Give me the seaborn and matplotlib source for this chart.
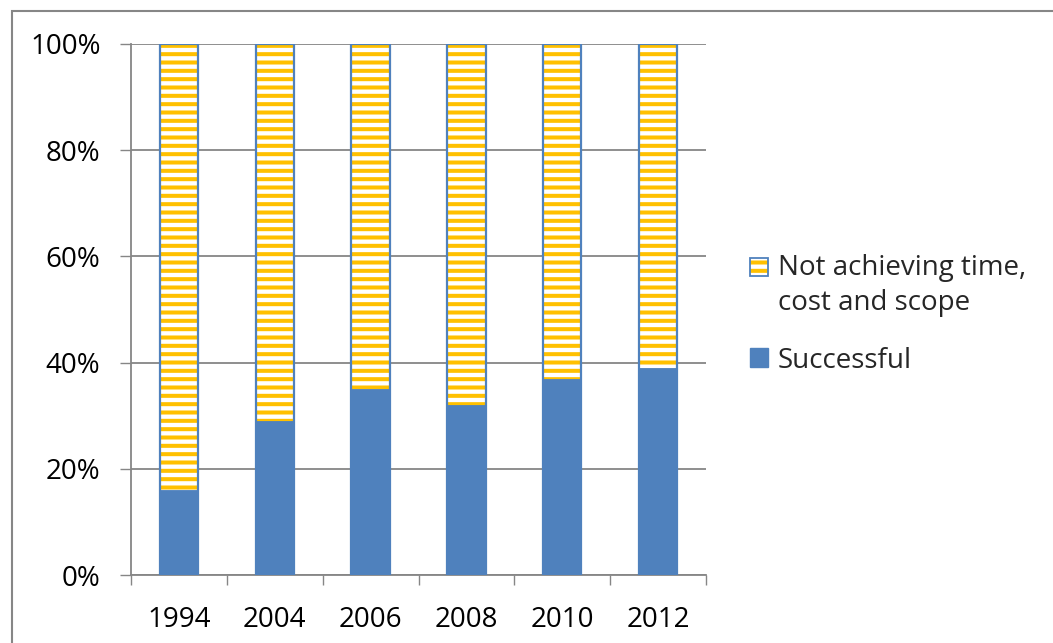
import matplotlib
matplotlib.use("Agg")
import matplotlib.pyplot as plt
import seaborn as sns
import pandas as pd
from matplotlib.patches import Patch, Rectangle
from matplotlib.legend_handler import HandlerTuple, HandlerPatch
from matplotlib.ticker import FuncFormatter, FixedLocator

years = ["1994", "2004", "2006", "2008", "2010", "2012"]
successful = [16, 29, 35, 32, 37, 39]
not_achieving = [84, 71, 65, 68, 63, 61]
yticks = [0, 20, 40, 60, 80, 100]
label_not = "Not achieving time,\ncost and scope"
label_succ = "Successful"

BLUE = "#4F81BD"
YELLOW = "#FFC000"
GRAY = "#868686"

sns.set_theme(style="white")
plt.rcParams["font.family"] = ["Open Sans", "DejaVu Sans"]
plt.rcParams["hatch.linewidth"] = 2.9

df = pd.DataFrame({"year": years, "successful": successful, "not_achieving": not_achieving})
df["total"] = df["successful"] + df["not_achieving"]

W, H = 1053, 643
fig = plt.figure(figsize=(W / 100, H / 100), dpi=100)
ax = fig.add_axes([131 / W, (H - 575) / H, (706 - 131) / W, (575 - 44) / H])

# hatched stacked top segment (drawn as full bar, lower part covered)
sns.barplot(data=df, x="year", y="total", color="white", width=0.4, saturation=1,
            errorbar=None, ax=ax, zorder=2)
for p in ax.patches:
    p.set_hatch("--")
    p.set_edgecolor(YELLOW)
    p.set_linewidth(0)
n1 = len(ax.patches)
# outline of top segment
sns.barplot(data=df, x="year", y="total", color="white", width=0.4, saturation=1,
            errorbar=None, ax=ax, zorder=3)
for p in ax.patches[n1:]:
    p.set_facecolor("none")
    p.set_edgecolor(BLUE)
    p.set_linewidth(1.6)
n2 = len(ax.patches)
# successful bars
sns.barplot(data=df, x="year", y="successful", color=BLUE, width=0.4, saturation=1,
            errorbar=None, ax=ax, zorder=4)
for p in ax.patches[n2:]:
    p.set_edgecolor(BLUE)
    p.set_linewidth(0.6)

ax.set_xlim(-0.5, len(years) - 0.5)
ax.set_ylim(0, 100)
ax.set_yticks(yticks)
ax.yaxis.set_major_formatter(FuncFormatter(lambda v, _: f"{int(v)}%"))
ax.yaxis.grid(True, color=GRAY, linewidth=1.3)
ax.set_axisbelow(True)
ax.set_xlabel("")
ax.set_ylabel("")

ax.xaxis.set_minor_locator(FixedLocator([i - 0.5 for i in range(len(years) + 1)]))
ax.tick_params(axis="x", which="major", length=0, pad=22, labelsize=20, colors="black")
ax.tick_params(axis="x", which="minor", length=7.5, width=1, color=GRAY, direction="out", bottom=True)
ax.tick_params(axis="y", which="major", length=8, width=1, color=GRAY, pad=14,
               labelsize=20, direction="out", left=True, labelcolor="black")

for s in ["top", "right"]:
    ax.spines[s].set_visible(False)
for s in ["left", "bottom"]:
    ax.spines[s].set_color(GRAY)
    ax.spines[s].set_linewidth(1.3)


def shifted(dy):
    def f(legend, orig_handle, xdescent, ydescent, width, height, fontsize):
        return Rectangle((-xdescent, -ydescent + dy), width, height)
    return f


# legend
p_hatch = Patch(facecolor="white", edgecolor=YELLOW, hatch="--", linewidth=0)
p_outline = Patch(facecolor="none", edgecolor=BLUE, linewidth=1.3)
h_succ = Patch(facecolor=BLUE, edgecolor=BLUE)
DY = 14
leg = fig.legend([(p_hatch, p_outline), h_succ], [label_not, label_succ],
                 handler_map={tuple: HandlerTuple(ndivide=1, pad=0),
                              p_hatch: HandlerPatch(patch_func=shifted(DY)),
                              p_outline: HandlerPatch(patch_func=shifted(DY))},
                 loc="upper left", bbox_to_anchor=(750 / W, 1 - 254 / H),
                 frameon=False, fontsize=20, handlelength=0.65, handleheight=0.65,
                 handletextpad=0.35, borderpad=0, borderaxespad=0, labelspacing=1.05)
for t in leg.get_texts():
    t.set_linespacing(1.35)

# outer chart border
fig.add_artist(Rectangle((12 / W, -0.1), 1.2, 1.1 - 11 / H, transform=fig.transFigure,
                         facecolor="none", edgecolor=GRAY, linewidth=1.5))

fig.savefig("out.png", dpi=100)
